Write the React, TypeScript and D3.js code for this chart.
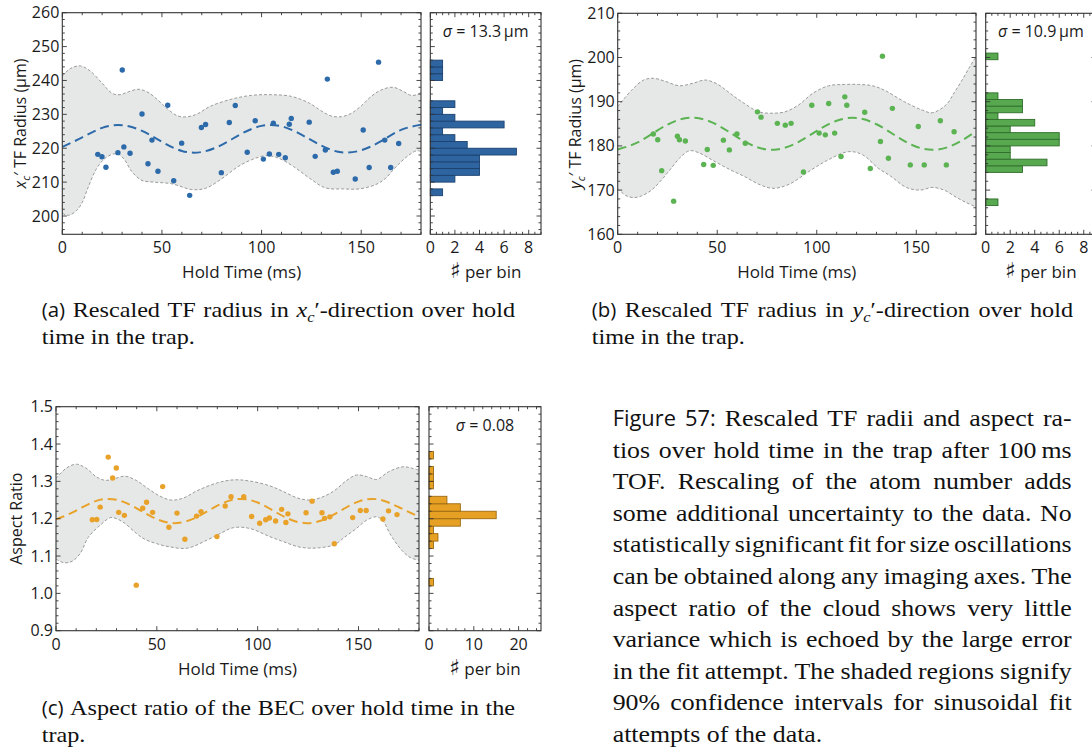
import React, { useMemo } from 'react';
import * as d3 from 'd3';

// ---------------- Panel (a): x_c' TF radius ----------------
const holdA = [17.8, 19.9, 21.9, 27.9, 30.1, 30.9, 34.0, 40.0, 43.0, 45.0, 48.0, 52.9, 55.9, 59.9, 63.9, 69.8, 71.9, 79.8, 83.8, 86.8, 92.8, 96.8, 100.9, 103.9, 105.9, 108.6, 111.9, 113.9, 114.9, 123.9, 126.9, 132.0, 133.0, 136.0, 138.0, 147.0, 151.0, 154.0, 158.7, 161.8, 164.8, 168.8];
const radiusA = [218.2, 217.5, 214.4, 218.7, 243.1, 220.4, 218.5, 230.1, 215.4, 222.4, 213.2, 232.7, 210.4, 221.5, 206.1, 226.1, 227.0, 212.8, 227.6, 232.6, 218.8, 228.1, 216.8, 218.3, 227.4, 218.2, 217.2, 227.1, 228.8, 227.7, 217.6, 219.5, 240.4, 212.9, 213.2, 210.9, 225.4, 214.3, 245.4, 222.4, 214.3, 221.4];
const fitTimes = [0, 10, 20, 30, 40, 50, 60, 70, 80, 90, 100, 110, 120, 130, 140, 150, 160, 170, 180];
const fitA = [220.4, 223.2, 226.0, 226.8, 225.1, 221.9, 219.2, 218.9, 221.0, 224.3, 226.6, 226.5, 224.0, 220.8, 218.8, 219.4, 222.1, 225.4, 226.9];
const upperA_t = [0, 4, 9, 14, 20, 25, 29, 33, 38, 43, 48, 53, 58, 63, 68, 74, 85, 95, 105, 115, 124, 130, 135, 140, 145, 150, 155, 160, 166, 171, 175, 178, 180];
const upperA_v = [241.3, 243.5, 244.3, 242.8, 239.2, 236.2, 235.8, 236.6, 237.4, 236.5, 234.2, 231.5, 229.5, 229.3, 230.2, 232.3, 234.5, 235.6, 235.8, 235.3, 233.3, 231.0, 229.5, 229.3, 230.3, 232.5, 235.3, 237.2, 238.0, 236.8, 235.6, 235.8, 236.5];
const lowerA_t = [0, 3, 7, 10, 13, 17, 21, 25, 28, 31, 35, 40, 46, 55, 65, 72, 80, 88, 95, 102, 108, 116, 124, 132, 141, 149, 157, 162, 166, 170, 174, 178, 180];
const lowerA_v = [200.8, 200.2, 201.5, 204.0, 208.5, 213.8, 216.8, 218.2, 218.3, 216.8, 213.0, 210.5, 210.0, 209.5, 207.8, 208.2, 211.0, 214.5, 216.6, 217.8, 217.2, 214.6, 211.2, 208.3, 208.0, 208.0, 209.2, 211.0, 213.6, 216.0, 218.0, 219.3, 219.0];
const yTicksA = [200, 210, 220, 230, 240, 250, 260];

// ---------------- Panel (b): y_c' TF radius ----------------
const holdB = [17.9, 20.1, 22.1, 28.1, 30.0, 31.0, 34.0, 43.2, 45.0, 48.0, 53.1, 56.1, 59.9, 64.1, 70.2, 72.0, 80.2, 84.2, 87.1, 93.3, 97.5, 101.2, 104.3, 106.0, 109.0, 112.2, 114.1, 115.1, 124.1, 126.9, 132.0, 133.0, 136.0, 138.0, 147.0, 151.0, 154.0, 162.1, 165.1, 169.0];
const radiusB = [182.7, 181.4, 174.4, 167.5, 182.2, 181.4, 181.1, 175.8, 179.2, 175.6, 181.3, 179.1, 182.7, 180.6, 187.7, 186.5, 185.1, 184.7, 185.1, 174.1, 189.2, 182.9, 182.5, 189.6, 182.9, 177.6, 191.1, 189.2, 187.6, 174.9, 181.0, 200.3, 177.2, 188.5, 175.7, 184.4, 175.7, 185.7, 175.7, 183.2];
const fitB = [179.2, 180.8, 183.5, 185.8, 186.3, 184.75, 182.0, 179.7, 179.2, 180.7, 183.4, 185.7, 186.3, 184.9, 182.2, 179.8, 179.15, 180.5, 183.3];
const upperB_t = [0, 7, 13, 18, 24, 31, 38, 44, 50, 55, 61, 71, 77, 84, 91, 98, 106, 114, 121, 128, 134, 144, 153, 158, 165, 169, 173, 177, 180];
const upperB_v = [188.9, 192.6, 194.9, 195.3, 194.6, 193.6, 194.2, 194.9, 194.0, 192.4, 190.4, 187.7, 187.4, 187.7, 189.3, 191.9, 193.6, 193.9, 193.9, 193.6, 192.6, 190.0, 188.1, 187.5, 189.3, 192.0, 194.9, 198.0, 200.2];
const lowerB_t = [0, 4, 8, 12, 17, 22, 27, 31, 36, 41, 49, 57, 64, 71, 78, 86, 97, 106, 116, 123, 131, 137, 145, 152, 158, 164, 170, 175, 180];
const lowerB_v = [170.4, 168.8, 168.3, 168.7, 170.0, 172.3, 175.0, 177.2, 178.9, 178.4, 176.4, 174.5, 173.0, 171.3, 170.4, 171.3, 174.5, 176.9, 178.7, 178.0, 174.9, 173.2, 170.6, 170.0, 170.6, 170.0, 168.4, 167.2, 166.2];
const yTicksB = [160, 170, 180, 190, 200, 210];

// ---------------- Panel (c): aspect ratio ----------------
const holdC = [18.0, 20.2, 21.9, 25.9, 28.1, 29.9, 31.1, 33.9, 39.8, 43.0, 44.9, 47.9, 52.9, 56.0, 60.0, 63.9, 69.7, 71.9, 79.8, 83.9, 86.8, 93.1, 97.0, 101.0, 104.0, 105.8, 108.9, 111.9, 114.0, 115.0, 124.0, 127.0, 131.9, 133.2, 135.8, 138.0, 147.1, 150.9, 153.8, 162.1, 164.9, 169.1];
const ratioC = [1.197, 1.198, 1.231, 1.365, 1.309, 1.336, 1.217, 1.209, 1.022, 1.228, 1.244, 1.217, 1.286, 1.177, 1.215, 1.145, 1.207, 1.219, 1.152, 1.234, 1.259, 1.259, 1.206, 1.188, 1.197, 1.202, 1.194, 1.225, 1.190, 1.213, 1.216, 1.247, 1.216, 1.201, 1.205, 1.133, 1.203, 1.222, 1.222, 1.199, 1.221, 1.211];
const fitC = [1.198, 1.2217, 1.2478, 1.2507, 1.2279, 1.1988, 1.1882, 1.2048, 1.2348, 1.2526, 1.2433, 1.2146, 1.191, 1.1924, 1.2179, 1.2459, 1.2515, 1.2307, 1.205];
const upperC_t = [0, 5, 10, 15, 20, 24, 28, 34, 40, 45, 51, 57, 63, 70, 80, 88, 96, 106, 113, 120, 126, 132, 138, 144, 149, 154, 159, 165, 172, 176, 180];
const upperC_v = [1.308, 1.335, 1.346, 1.335, 1.312, 1.303, 1.305, 1.314, 1.302, 1.283, 1.262, 1.25, 1.255, 1.275, 1.296, 1.304, 1.301, 1.288, 1.272, 1.255, 1.25, 1.258, 1.275, 1.302, 1.317, 1.313, 1.305, 1.326, 1.339, 1.336, 1.33];
const lowerC_t = [0, 4, 8, 12, 16, 22, 27, 30, 34, 40, 44, 50, 56, 65, 75, 82, 88, 96, 106, 113, 120, 126, 132, 138, 143, 149, 154, 159, 162, 166, 172, 176, 180];
const lowerC_v = [1.092, 1.082, 1.086, 1.107, 1.15, 1.183, 1.203, 1.2, 1.188, 1.16, 1.145, 1.133, 1.125, 1.121, 1.143, 1.162, 1.176, 1.174, 1.152, 1.138, 1.125, 1.121, 1.123, 1.13, 1.15, 1.174, 1.196, 1.205, 1.195, 1.156, 1.112, 1.095, 1.089];
const yTicksC = [0.9, 1.0, 1.1, 1.2, 1.3, 1.4, 1.5];

const xTicks = [0, 50, 100, 150];
const histTicksAB = [0, 2, 4, 6, 8];
const histTicksC = [0, 10, 20];
const binsA = d3.range(194, 262, 2);
const binsB = d3.range(159, 211, 1.5);
const binsC = d3.range(44, 76).map((k) => k / 50);

const SANS = '"Open Sans", "DejaVu Sans", sans-serif';
const SERIF = '"Liberation Serif", "DejaVu Serif", serif';
const FRAME = '#333';
const TXT = '#1a1a1a';

function minorTicks(d0: number, d1: number, step: number, majors: number[]) {
  const out: number[] = [];
  const k0 = Math.ceil(d0 / step - 1e-9);
  const k1 = Math.floor(d1 / step + 1e-9);
  for (let k = k0; k <= k1; k++) {
    const v = k * step;
    if (!majors.some((m) => Math.abs(m - v) < step * 0.01)) out.push(v);
  }
  return out;
}

interface Box { mx0: number; mx1: number; y0: number; y1: number; hx0: number; hx1: number }

interface PanelProps {
  id: string;
  times: number[]; values: number[];
  fitV: number[];
  upT: number[]; upV: number[]; loT: number[]; loV: number[];
  yDomain: [number, number]; yMajor: number[]; yMinorStep: number; yFmt: (v: number) => string;
  thresholds: number[];
  hDomain: [number, number]; hMajor: number[]; hMinorStep: number;
  color: string; barFill: string; barStroke: string;
  sigma: string;
  box: Box;
  yLabel: React.ReactNode; yLabelX: number;
}

function Panel(p: PanelProps) {
  const { box } = p;
  const x = d3.scaleLinear().domain([0, 180]).range([box.mx0, box.mx1]);
  const y = d3.scaleLinear().domain(p.yDomain).range([box.y1, box.y0]);
  const hx = d3.scaleLinear().domain(p.hDomain).range([box.hx0, box.hx1]);

  const bins = d3.bin().domain(p.yDomain).thresholds(p.thresholds)(p.values);

  const lineGen = d3.line<[number, number]>().x((d) => x(d[0])).y((d) => y(d[1])).curve(d3.curveCatmullRom.alpha(0.5));
  const upPts = p.upT.map((t, i) => [t, p.upV[i]] as [number, number]);
  const loPts = p.loT.map((t, i) => [t, p.loV[i]] as [number, number]);
  const upPath = lineGen(upPts) || '';
  const loPath = lineGen(loPts) || '';
  const loRev = lineGen([...loPts].reverse()) || '';
  const bandPath = upPath + 'L' + loRev.slice(1) + 'Z';
  const fitPath = d3.line<number>().x((_, i) => x(fitTimes[i])).y((d) => y(d)).curve(d3.curveNatural)(p.fitV) || '';

  const yMinor = minorTicks(p.yDomain[0], p.yDomain[1], p.yMinorStep, p.yMajor);
  const xMinor = minorTicks(0, 180, 10, xTicks);
  const hMinor = minorTicks(p.hDomain[0], p.hDomain[1], p.hMinorStep, p.hMajor);
  const MJ = 4.5, MN = 2.5;

  const yTickLines: React.ReactNode[] = [];
  const addY = (vals: number[], len: number, key: string) => {
    vals.forEach((v, i) => {
      const yy = y(v);
      if (yy < box.y0 - 0.5 || yy > box.y1 + 0.5) return;
      yTickLines.push(<line key={`${key}l${i}`} x1={box.mx0} x2={box.mx0 + len} y1={yy} y2={yy} />);
      yTickLines.push(<line key={`${key}r${i}`} x1={box.mx1} x2={box.mx1 - len} y1={yy} y2={yy} />);
      yTickLines.push(<line key={`${key}hl${i}`} x1={box.hx0} x2={box.hx0 + len} y1={yy} y2={yy} />);
      yTickLines.push(<line key={`${key}hr${i}`} x1={box.hx1} x2={box.hx1 - len} y1={yy} y2={yy} />);
    });
  };
  addY(p.yMajor, MJ, 'M');
  addY(yMinor, MN, 'm');

  const xTickLines: React.ReactNode[] = [];
  const addX = (scale: d3.ScaleLinear<number, number>, vals: number[], len: number, key: string) => {
    vals.forEach((v, i) => {
      const xx = scale(v);
      xTickLines.push(<line key={`${key}b${i}`} x1={xx} x2={xx} y1={box.y1} y2={box.y1 - len} />);
      xTickLines.push(<line key={`${key}t${i}`} x1={xx} x2={xx} y1={box.y0} y2={box.y0 + len} />);
    });
  };
  addX(x, xTicks, MJ, 'XM');
  addX(x, xMinor, MN, 'Xm');
  addX(hx, p.hMajor, MJ, 'HM');
  addX(hx, hMinor, MN, 'Hm');

  const midY = (box.y0 + box.y1) / 2;

  return (
    <g>
      <defs>
        <clipPath id={`clip-${p.id}`}>
          <rect x={box.mx0} y={box.y0} width={box.mx1 - box.mx0} height={box.y1 - box.y0} />
        </clipPath>
      </defs>
      <g clipPath={`url(#clip-${p.id})`}>
        <path d={bandPath} fill="#e6e8e8" stroke="none" />
        <path d={upPath} fill="none" stroke="#9a9a9a" strokeWidth={1} strokeDasharray="3,2" />
        <path d={loPath} fill="none" stroke="#9a9a9a" strokeWidth={1} strokeDasharray="3,2" />
        <path d={fitPath} fill="none" stroke={p.color} strokeWidth={2} strokeDasharray="9,5" />
        {p.times.map((t, i) => (
          <circle key={i} cx={x(t)} cy={y(p.values[i])} r={2.7} fill={p.color} />
        ))}
      </g>
      {bins.filter((b) => b.length > 0).map((b, i) => (
        <rect key={i} x={hx(0)} y={y(b.x1 as number)} width={hx(b.length) - hx(0)} height={y(b.x0 as number) - y(b.x1 as number)}
          fill={p.barFill} stroke={p.barStroke} strokeWidth={0.9} />
      ))}
      <rect x={box.mx0} y={box.y0} width={box.mx1 - box.mx0} height={box.y1 - box.y0} fill="none" stroke={FRAME} strokeWidth={1.1} />
      <rect x={box.hx0} y={box.y0} width={box.hx1 - box.hx0} height={box.y1 - box.y0} fill="none" stroke={FRAME} strokeWidth={1.1} />
      <g stroke={FRAME} strokeWidth={0.9}>
        {yTickLines}
        {xTickLines}
      </g>
      <g fontFamily={SANS} fontSize={16} fill={TXT}>
        {p.yMajor.map((v) => (
          <text key={v} x={box.mx0 - 3} y={y(v) + 5.5} textAnchor="end">{p.yFmt(v)}</text>
        ))}
        {xTicks.map((v) => (
          <text key={v} x={x(v)} y={box.y1 + 19} textAnchor="middle">{v}</text>
        ))}
        {p.hMajor.map((v) => (
          <text key={v} x={hx(v)} y={box.y1 + 19} textAnchor="middle">{v}</text>
        ))}
        <text x={(box.mx0 + box.mx1) / 2} y={box.y1 + 44} textAnchor="middle" fontSize={17}>Hold Time (ms)</text>
        <text x={(box.hx0 + box.hx1) / 2} y={box.y1 + 44} textAnchor="middle" fontSize={17}>
          <tspan fontFamily='"DejaVu Sans", sans-serif' fontSize={22}>{'\u266F'}</tspan>{' per bin'}
        </text>
        <text x={(box.hx0 + box.hx1) / 2} y={box.y0 + 24} textAnchor="middle">
          <tspan fontStyle="italic">σ</tspan>{` = ${p.sigma}`}
        </text>
        <text transform={`translate(${p.yLabelX},${midY}) rotate(-90)`} textAnchor="middle">{p.yLabel}</text>
      </g>
    </g>
  );
}

// ---------------- Justified text ----------------
type Run = { t: string; sans?: boolean; it?: boolean; sub?: boolean };
type Word = Run[];
type TLine = { words: Word[]; justify: boolean };

const w = (s: string): Word => [{ t: s }];
const words = (s: string): Word[] => s.split(' ').map(w);
const SX = 1.1; // horizontal stretch to mimic the wider book face

let measureCtx: CanvasRenderingContext2D | null = null;
function fontFor(r: Run, size: number) {
  const fs = r.sub ? size * 0.68 : r.sans ? size * 0.93 : size;
  return { fs, css: `${r.it ? 'italic ' : ''}${fs}px ${r.sans ? SANS : SERIF}` };
}
function runWidth(r: Run, size: number) {
  if (!measureCtx) measureCtx = document.createElement('canvas').getContext('2d');
  const f = fontFor(r, size);
  measureCtx!.font = f.css;
  const sx = r.sans ? 1.0 : SX;
  return measureCtx!.measureText(r.t).width * sx;
}

function Paragraph({ x, y, width, lh, size, lines }: { x: number; y: number; width: number; lh: number; size: number; lines: TLine[] }) {
  const out: React.ReactNode[] = [];
  const spaceW = runWidth({ t: ' ' }, size);
  lines.forEach((ln, li) => {
    const by = y + li * lh;
    let cx = x;
    const wordWidths = ln.words.map((wd) => wd.reduce((s, r) => s + runWidth(r, size), 0));
    const total = wordWidths.reduce((a, b) => a + b, 0);
    const gap = ln.justify && ln.words.length > 1 ? (width - total) / (ln.words.length - 1) : spaceW;
    ln.words.forEach((wd, wi) => {
      let rx = cx;
      wd.forEach((r, ri) => {
        const f = fontFor(r, size);
        const sx = r.sans ? 1.0 : SX;
        const dy = r.sub ? size * 0.22 : 0;
        out.push(
          <text key={`${li}-${wi}-${ri}`} transform={`translate(${rx},${by + dy}) scale(${sx},1)`}
            fontFamily={r.sans ? SANS : SERIF} fontSize={f.fs} fontStyle={r.it ? 'italic' : 'normal'} fill="#111">
            {r.t}
          </text>
        );
        rx += runWidth(r, size);
      });
      cx += wordWidths[wi] + gap;
    });
  });
  return <g>{out}</g>;
}

const subA: TLine[] = [
  { words: [[{ t: '(a)', sans: true }], ...words('Rescaled TF radius in'), [{ t: 'x', it: true }, { t: 'c', it: true, sub: true }, { t: '\u2032-direction' }], ...words('over hold')], justify: true },
  { words: words('time in the trap.'), justify: false },
];
const subB: TLine[] = [
  { words: [[{ t: '(b)', sans: true }], ...words('Rescaled TF radius in'), [{ t: 'y', it: true }, { t: 'c', it: true, sub: true }, { t: '\u2032-direction' }], ...words('over hold')], justify: true },
  { words: words('time in the trap.'), justify: false },
];
const subC: TLine[] = [
  { words: [[{ t: '(c)', sans: true }], ...words('Aspect ratio of the BEC over hold time in the')], justify: true },
  { words: words('trap.'), justify: false },
];
const captionLines: TLine[] = [
  { words: [[{ t: 'Figure', sans: true }], [{ t: '57:', sans: true }], ...words('Rescaled TF radii and aspect ra-')], justify: true },
  { words: [...words('tios over hold time in the trap after'), w('100\u2009ms')], justify: true },
  { words: words('TOF. Rescaling of the atom number adds'), justify: true },
  { words: words('some additional uncertainty to the data. No'), justify: true },
  { words: words('statistically significant fit for size oscillations'), justify: true },
  { words: words('can be obtained along any imaging axes. The'), justify: true },
  { words: words('aspect ratio of the cloud shows very little'), justify: true },
  { words: words('variance which is echoed by the large error'), justify: true },
  { words: words('in the fit attempt. The shaded regions signify'), justify: true },
  { words: words('90% confidence intervals for sinusoidal fit'), justify: true },
  { words: words('attempts of the data.'), justify: false },
];

export default function App() {
  const yLabA = (
    <>
      <tspan fontStyle="italic">x</tspan>
      <tspan fontStyle="italic" fontSize={11} dy={4}>c</tspan>
      <tspan dy={-4}>{'\u2032 TF Radius (\u00B5m)'}</tspan>
    </>
  );
  const yLabB = (
    <>
      <tspan fontStyle="italic">y</tspan>
      <tspan fontStyle="italic" fontSize={11} dy={4}>c</tspan>
      <tspan dy={-4}>{'\u2032 TF Radius (\u00B5m)'}</tspan>
    </>
  );
  const text = useMemo(() => (
    <g>
      <Paragraph x={41.7} y={317} width={473.3} lh={26.5} size={22} lines={subA} />
      <Paragraph x={591.7} y={317} width={481.3} lh={26.5} size={22} lines={subB} />
      <Paragraph x={41.7} y={714.5} width={473.3} lh={27} size={22} lines={subC} />
      <Paragraph x={612.7} y={426} width={459} lh={31.6} size={23.5} lines={captionLines} />
    </g>
  ), []);
  return (
    <svg width={1092} height={756} style={{ position: 'absolute', left: 0, top: 0, background: '#fff', display: 'block' }}>
      <rect width={1092} height={756} fill="#fff" />
      <Panel id="a" times={holdA} values={radiusA} fitV={fitA}
        upT={upperA_t} upV={upperA_v} loT={lowerA_t} loV={lowerA_v}
        yDomain={[194.6, 260]} yMajor={yTicksA} yMinorStep={2} yFmt={(v) => String(v)}
        thresholds={binsA} hDomain={[0, 9]} hMajor={histTicksAB} hMinorStep={0.5}
        color="#2d6aa9" barFill="#2e64a0" barStroke="#1b4270" sigma={'13.3\u2009\u00B5m'}
        box={{ mx0: 62.3, mx1: 421, y0: 12.7, y1: 234.3, hx0: 430.3, hx1: 541 }}
        yLabel={yLabA} yLabelX={26} />
      <Panel id="b" times={holdB} values={radiusB} fitV={fitB}
        upT={upperB_t} upV={upperB_v} loT={lowerB_t} loV={lowerB_v}
        yDomain={[160, 210]} yMajor={yTicksB} yMinorStep={2} yFmt={(v) => String(v)}
        thresholds={binsB} hDomain={[0, 9]} hMajor={histTicksAB} hMinorStep={0.5}
        color="#5bb352" barFill="#57a84f" barStroke="#2f6e2b" sigma={'10.9\u2009\u00B5m'}
        box={{ mx0: 617.7, mx1: 976, y0: 13.3, y1: 234.3, hx0: 985.7, hx1: 1096 }}
        yLabel={yLabB} yLabelX={581} />
      <Panel id="c" times={holdC} values={ratioC} fitV={fitC}
        upT={upperC_t} upV={upperC_v} loT={lowerC_t} loV={lowerC_v}
        yDomain={[0.9, 1.5]} yMajor={yTicksC} yMinorStep={0.02} yFmt={(v) => v.toFixed(1)}
        thresholds={binsC} hDomain={[0, 25]} hMajor={histTicksC} hMinorStep={2}
        color="#e8a22a" barFill="#e6a024" barStroke="#9c6a10" sigma="0.08"
        box={{ mx0: 56, mx1: 419, y0: 406.7, y1: 630.7, hx0: 429, hx1: 541 }}
        yLabel={'Aspect Ratio'} yLabelX={22} />
      {text}
    </svg>
  );
}
